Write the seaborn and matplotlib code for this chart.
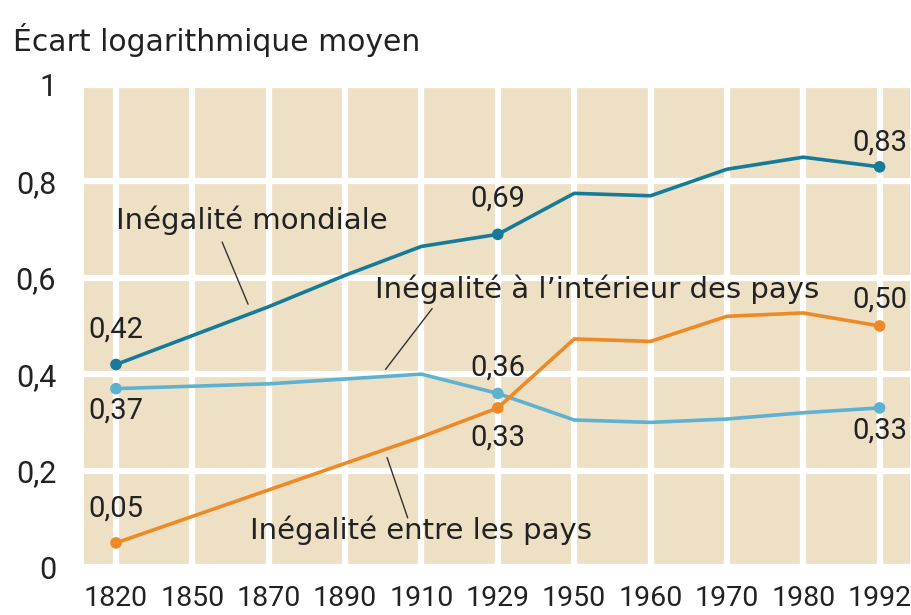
import pandas as pd
import numpy as np
import matplotlib
matplotlib.use("Agg")
import matplotlib.pyplot as plt
import seaborn as sns

annees = ["1820", "1850", "1870", "1890", "1910", "1929",
          "1950", "1960", "1970", "1980", "1992"]

mondiale = [0.42, 0.48, 0.54, 0.605, 0.665, 0.69, 0.775, 0.77, 0.825, 0.85, 0.83]
interieur = [0.37, 0.375, 0.38, 0.39, 0.40, 0.36, 0.305, 0.30, 0.307, 0.32, 0.33]
entre = [0.05, 0.105, 0.16, 0.215, 0.27, 0.33, 0.473, 0.468, 0.52, 0.527, 0.50]

series = ["Inégalité mondiale", "Inégalité à l’intérieur des pays", "Inégalité entre les pays"]
couleurs = ["#167a99", "#5cb2d0", "#ee8a25"]

# points étiquetés : 1820, 1929, 1992
points_marques = [0, 5, 10]

df = pd.DataFrame({
    "pos": list(range(len(annees))) * 3,
    "valeur": mondiale + interieur + entre,
    "serie": np.repeat(series, len(annees)),
})

sns.set_style("white")
plt.rcParams["font.family"] = ["Roboto", "DejaVu Sans"]

fig = plt.figure(figsize=(9.12, 6.15), dpi=100)
ax = fig.add_axes([0.092, 0.078, 0.906, 0.784])
ax.set_facecolor("#eee0c5")

pal = dict(zip(series, couleurs))
sns.lineplot(data=df, x="pos", y="valeur", hue="serie", palette=pal,
             linewidth=2.6, legend=False, ax=ax, zorder=3)

marques = df[df["pos"].isin(points_marques)]
sns.scatterplot(data=marques, x="pos", y="valeur", hue="serie", palette=pal,
                s=70, edgecolor="none", legend=False, ax=ax, zorder=4)

ax.set_xlim(-0.42, 10.4)
ax.set_ylim(0, 1)
ax.set_xticks(range(len(annees)))
ax.set_xticklabels(annees)
ax.set_yticks([0, 0.2, 0.4, 0.6, 0.8, 1])
ax.set_yticklabels(["0", "0,2", "0,4", "0,6", "0,8", "1"])
ax.tick_params(axis="both", length=0, labelcolor="#222222")
ax.tick_params(axis="y", pad=20, labelsize=22)
ax.tick_params(axis="x", pad=13, labelsize=20.5)
ax.grid(True, color="white", linewidth=4.5)
ax.set_axisbelow(True)
for s in ax.spines.values():
    s.set_visible(False)
ax.set_xlabel("")
ax.set_ylabel("")


def fmt(v):
    return f"{v:.2f}".replace(".", ",")


# étiquettes de valeurs (indice, valeur, décalage vertical)
etiquettes = [
    (0, mondiale[0], 0.072), (0, interieur[0], -0.046), (0, entre[0], 0.071),
    (5, mondiale[5], 0.075), (5, interieur[5], 0.054), (5, entre[5], -0.062),
    (10, mondiale[10], 0.05), (10, entre[10], 0.055), (10, interieur[10], -0.047),
]
for i, v, d in etiquettes:
    ax.text(i, v + d, fmt(v), fontsize=21, color="#222222",
            ha="center", va="center")

# noms des séries avec traits de rappel
mots = dict(fontsize=21, color="#222222", ha="center", va="center",
            family=["DejaVu Sans"])
ax.text(1.78, 0.72, series[0], **mots)
ax.text(6.30, 0.576, series[1], **mots)
ax.text(4.0, 0.077, series[2], **mots)

trait = dict(arrowstyle="-", color="#333333", lw=1, shrinkA=0, shrinkB=0)
ax.annotate("", xy=(1.73, 0.545), xytext=(1.39, 0.674), arrowprops=trait)
ax.annotate("", xy=(3.53, 0.41), xytext=(4.14, 0.536), arrowprops=trait)
ax.annotate("", xy=(3.55, 0.227), xytext=(3.82, 0.102), arrowprops=trait)

fig.text(0.014, 0.935, "Écart logarithmique moyen", fontsize=21.5,
         color="#222222", ha="left", va="center", family=["DejaVu Sans"])

fig.savefig("out.png", dpi=100)
